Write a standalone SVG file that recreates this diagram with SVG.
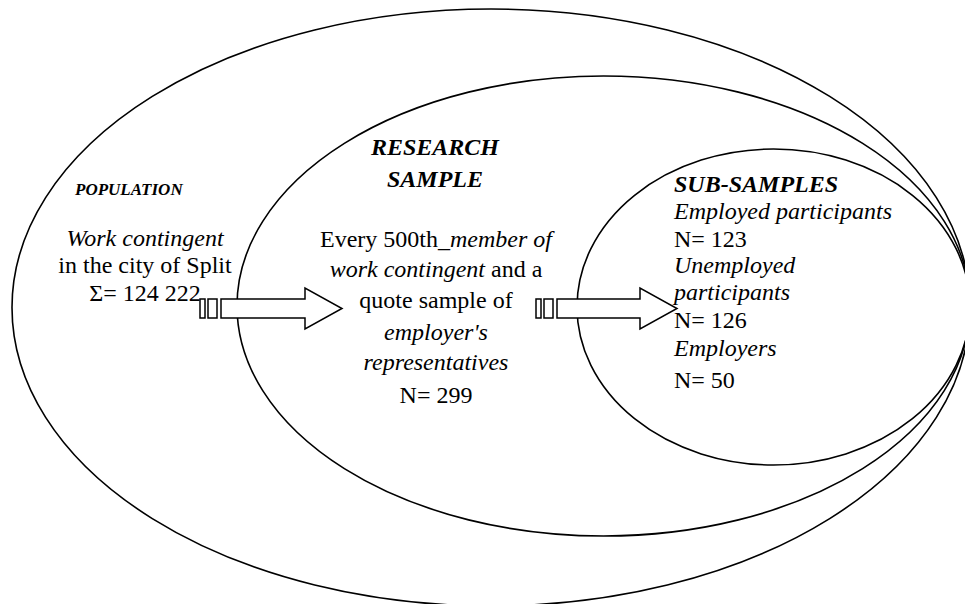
<svg xmlns="http://www.w3.org/2000/svg" width="965" height="604" viewBox="0 0 965 604">
<style>
.e{fill:none;stroke:#000;stroke-width:1.6}
.t{font-family:"Liberation Serif","Times New Roman",serif;font-size:24px;fill:#000}
.i{font-style:italic}
.b{font-weight:bold;font-style:italic}
.a{fill:#fff;stroke:#000;stroke-width:1.5}
</style>
<rect width="965" height="604" fill="#fff"/>
<g id="population">
<ellipse class="e" cx="491" cy="307.5" rx="479" ry="298.5"/>
<text class="t b" x="75" y="195" style="font-size:17px">POPULATION</text>
<text class="t" text-anchor="middle"><tspan class="i" x="145" y="246">Work contingent</tspan><tspan x="145" y="273">in the city of Split</tspan><tspan x="145" y="301">Σ= 124 222</tspan></text>
</g>
<g id="research-sample">
<ellipse class="e" cx="603.5" cy="306" rx="366.5" ry="230"/>
<text class="t b" text-anchor="middle"><tspan x="435" y="155">RESEARCH</tspan><tspan x="435" y="187">SAMPLE</tspan></text>
<text class="t" text-anchor="middle" x="436" y="247">Every 500th_<tspan class="i">member of</tspan></text>
<text class="t" text-anchor="middle" x="436" y="277"><tspan class="i">work contingent</tspan> and a</text>
<text class="t" text-anchor="middle" x="436" y="308">quote sample of</text>
<text class="t i" text-anchor="middle" x="436" y="340">employer's</text>
<text class="t i" text-anchor="middle" x="436" y="370">representatives</text>
<text class="t" text-anchor="middle" x="436" y="403">N= 299</text>
</g>
<g id="sub-samples">
<ellipse class="e" cx="773.5" cy="307" rx="196.5" ry="158"/>
<text class="t b" x="674" y="192">SUB-SAMPLES</text>
<text class="t i" x="674" y="219">Employed participants</text>
<text class="t" x="674" y="247">N= 123</text>
<text class="t i" x="674" y="273">Unemployed</text>
<text class="t i" x="674" y="300">participants</text>
<text class="t" x="674" y="328">N= 126</text>
<text class="t i" x="674" y="356">Employers</text>
<text class="t" x="674" y="388">N= 50</text>
</g>
<g id="connectors">
<g id="arrow-1">
<rect class="a" x="200" y="299" width="5" height="19"/>
<rect class="a" x="208" y="299" width="9" height="19"/>
<polygon class="a" points="221,299 305,299 305,288 342,308.5 305,329 305,318 221,318"/>
</g>
<g id="arrow-2">
<rect class="a" x="536" y="299" width="5" height="19"/>
<rect class="a" x="544" y="299" width="9" height="19"/>
<polygon class="a" points="557,299 640,299 640,288 677,308.5 640,329 640,318 557,318"/>
</g>
</g>
</svg>
